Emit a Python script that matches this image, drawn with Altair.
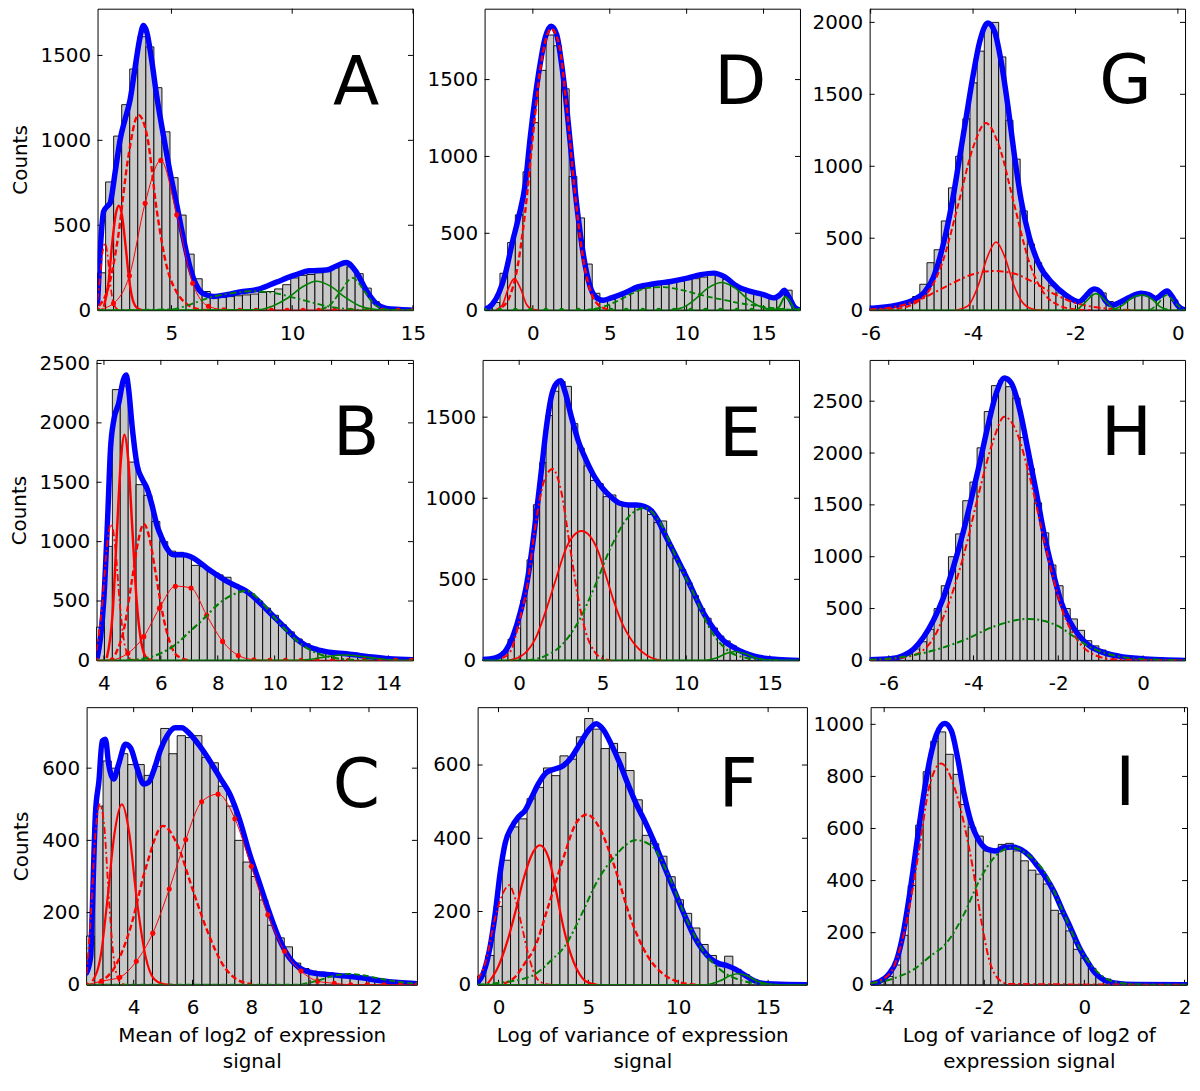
import altair as alt
import pandas as pd

FONT = "DejaVu Sans"
RED = "#ff0000"
GREEN = "#008000"
BLUE = "#0000ff"
BARFILL = "#c8c8c8"

# ================= Panel A =================
A_xdomain = [1.94, 15.0]
A_ydomain = [0, 1775]
A_xticks = [5, 10, 15]
A_yticks = [0, 500, 1000, 1500]
A_bin_start = 1.94
A_bin_width = 1 / 3
A_counts = [220, 755, 1025, 1210, 1420, 1610, 1550, 1310, 1050, 780,
            560, 330, 185, 110, 80, 75, 80, 85, 90, 95,
            105, 110, 125, 150, 190, 205, 210, 220, 240, 250,
            270, 255, 215, 130, 50, 20, 8, 4, 2]
A_fit_x = [1.94, 2.05, 2.19, 2.33, 2.46, 2.67, 2.88, 3.08, 3.29, 3.50, 3.70, 3.84, 3.98,
           4.18, 4.39, 4.67, 4.94, 5.22, 5.49, 5.77, 6.04, 6.32, 6.73, 7.28, 7.83, 8.66,
           9.35, 10.04, 10.73, 11.42, 11.83, 12.24, 12.66, 13.07, 13.48, 13.90, 14.45, 15.0]
A_fit_y = [40, 350, 580, 610, 630, 814, 1008, 1124, 1240, 1434, 1608, 1676, 1637,
           1473, 1260, 1027, 814, 620, 426, 252, 145, 97, 81, 91, 107, 126,
           165, 203, 232, 236, 260, 281, 223, 116, 39, 10, 4, 0]
A_rdd_x = [1.94, 2.05, 2.15, 2.25, 2.35, 2.45, 2.6, 2.8]
A_rdd_y = [60, 200, 340, 395, 330, 180, 40, 0]
A_rsol_x = [2.2, 2.4, 2.55, 2.7, 2.82, 2.95, 3.1, 3.25, 3.4, 3.6, 3.8]
A_rsol_y = [20, 170, 400, 570, 615, 560, 380, 180, 60, 10, 0]
A_rdash_x = [2.0, 2.4, 2.8, 3.2, 3.63, 4.0, 4.4, 4.8, 5.2, 5.6, 6.0, 6.5]
A_rdash_y = [25, 140, 440, 890, 1150, 1020, 580, 260, 110, 40, 10, 0]
A_rdot_x = [1.94, 2.6, 3.26, 3.91, 4.56, 5.22, 5.88, 6.53, 7.17, 7.83, 8.5, 9.14, 9.79,
            10.45, 11.1, 11.76, 12.42, 13.07, 13.73, 14.38, 15.0]
A_rdot_y = [2, 40, 203, 630, 882, 562, 159, 23, 3, 0, 0, 0, 0,
            0, 0, 0, 0, 0, 0, 0, 0]
A_gdd_x = [1.94, 5.0, 5.8, 6.6, 7.5, 8.3, 9.1, 9.9, 10.7, 11.5, 12.3, 13.0, 15.0]
A_gdd_y = [0, 5, 35, 75, 100, 112, 105, 80, 50, 22, 7, 1, 0]
A_gsol_x = [1.94, 8.6, 9.2, 9.8, 10.4, 11.0, 11.6, 12.2, 12.8, 13.4, 14.0, 15.0]
A_gsol_y = [0, 3, 25, 70, 135, 170, 140, 75, 25, 5, 0, 0]
A_gdash_x = [11.2, 11.6, 12.0, 12.5, 13.0, 13.4, 13.8, 14.3]
A_gdash_y = [5, 35, 110, 190, 110, 35, 8, 0]

# ================= Panel D =================
D_xdomain = [-3.14, 17.37]
D_ydomain = [0, 1961]
D_xticks = [0, 5, 10, 15]
D_yticks = [0, 500, 1000, 1500]
D_bin_start = -3.14
D_bin_width = 0.5
D_counts = [10, 50, 240, 440, 620, 900, 1220, 1560, 1790, 1720,
            1440, 870, 600, 300, 110, 65, 70, 90, 105, 125,
            140, 155, 165, 170, 180, 190, 200, 205, 215, 240,
            225, 200, 170, 130, 115, 105, 95, 80, 100, 130, 15]
D_fit_x = [-3.14, -2.65, -2.21, -1.78, -1.35, -0.92, -0.49, -0.17, 0.15, 0.47, 0.80, 1.19, 1.55,
           1.87, 2.20, 2.52, 2.84, 3.17, 3.60, 4.03, 4.56, 5.10, 5.96, 6.82, 7.90, 8.97, 10.05,
           10.91, 11.77, 12.42, 13.28, 14.14, 15.0, 15.65, 16.08, 16.34, 16.62, 17.05, 17.37]
D_fit_y = [4, 37, 112, 241, 435, 608, 823, 1125, 1384, 1600, 1772, 1847, 1793,
           1600, 1319, 996, 694, 435, 198, 91, 65, 80, 112, 151, 172, 187, 209,
           231, 241, 220, 155, 123, 101, 80, 101, 129, 91, 15, 0]
D_rdash_x = [-2.0, -1.5, -1.0, -0.5, 0.0, 0.5, 1.2, 1.7, 2.2, 2.7, 3.2, 3.7, 4.2, 4.7, 5.2]
D_rdash_y = [20, 90, 280, 640, 1130, 1580, 1830, 1730, 1320, 800, 380, 140, 40, 10, 0]
D_rsol_x = [-2.4, -2.0, -1.6, -1.2, -0.8, -0.4, 0.0, 0.4]
D_rsol_y = [2, 30, 140, 205, 140, 35, 4, 0]
D_gdot_x = [-3.14, -2.15, -1.14, -0.15, 0.84, 1.87, 2.95, 4.07, 5.10, 6.07, 7.15, 8.18, 9.19,
            10.27, 11.23, 12.20, 13.27, 14.24, 15.32, 16.29, 17.37]
D_gdot_y = [0, 0, 0, 0, 0, 0, 0, 0, 0, 0, 0, 0, 0, 0, 0, 0, 0, 0, 0, 0, 0]
D_gdd_x = [3.5, 4.5, 5.5, 6.5, 7.5, 8.5, 9.5, 10.5, 11.5, 12.5, 13.5, 14.5, 15.5, 16.5, 17.37]
D_gdd_y = [2, 20, 60, 110, 145, 150, 135, 110, 85, 65, 45, 30, 15, 5, 1]
D_gsol_x = [9.0, 9.8, 10.6, 11.4, 12.3, 13.2, 14.0, 14.8, 15.6, 16.2]
D_gsol_y = [2, 20, 75, 145, 180, 140, 70, 22, 4, 0]
D_gsm_x = [15.6, 16.0, 16.4, 16.7, 17.0, 17.37]
D_gsm_y = [0, 20, 85, 60, 10, 0]

# ================= Panel G =================
G_xdomain = [-6.02, 0.14]
G_ydomain = [0, 2095]
G_xticks = [-6, -4, -2, 0]
G_yticks = [0, 500, 1000, 1500, 2000]
G_bin_start = -6.02
G_bin_width = 0.14
G_counts = [8, 10, 15, 22, 35, 55, 95, 180, 330, 420,
            620, 850, 1070, 1330, 1580, 1800, 1990, 2000, 1760, 1320,
            1050, 690, 460, 330, 240, 170, 120, 100, 75, 65,
            100, 135, 120, 60, 45, 60, 90, 115, 120, 95,
            100, 125, 70]
G_fit_x = [-6.02, -5.49, -5.17, -4.94, -4.78, -4.65, -4.52, -4.39, -4.26, -4.13, -4.0, -3.87, -3.71,
           -3.58, -3.45, -3.32, -3.19, -3.06, -2.90, -2.71, -2.45, -2.19, -1.93, -1.81, -1.68, -1.62,
           -1.52, -1.40, -1.27, -1.11, -0.92, -0.72, -0.56, -0.43, -0.27, -0.21, -0.11, -0.01, 0.14]
G_fit_y = [12, 35, 70, 129, 223, 364, 552, 786, 1068, 1350, 1631, 1866, 1995,
           1937, 1725, 1420, 1068, 763, 505, 317, 188, 106, 59, 94, 141, 148,
           129, 59, 35, 59, 94, 117, 106, 82, 124, 134, 94, 35, 0]
G_rdash_x = [-6.02, -5.5, -5.0, -4.6, -4.3, -4.0, -3.75, -3.5, -3.2, -2.9, -2.6, -2.3, -2.0, -1.7]
G_rdash_y = [2, 10, 80, 330, 720, 1130, 1300, 1150, 740, 330, 110, 30, 5, 0]
G_rsol_x = [-4.35, -4.1, -3.9, -3.72, -3.55, -3.38, -3.2, -3.0, -2.8, -2.6]
G_rsol_y = [0, 30, 170, 370, 474, 370, 170, 40, 5, 0]
G_rdd_x = [-6.02, -5.5, -5.0, -4.5, -4.0, -3.6, -3.2, -2.8, -2.4, -2.0, -1.6, -1.2, -0.8]
G_rdd_y = [5, 25, 80, 170, 250, 272, 255, 190, 110, 50, 20, 5, 0]
G_g1_x = [-6.02, -2.0, -1.85, -1.6, -1.4, -1.25, -1.1, 0.14]
G_g1_y = [0, 0, 40, 115, 60, 10, 0, 0]
G_g2_x = [-1.3, -1.1, -0.9, -0.7, -0.5, -0.35, -0.2]
G_g2_y = [0, 30, 85, 105, 75, 25, 5]
G_g3_x = [-0.55, -0.4, -0.22, -0.05, 0.1, 0.14]
G_g3_y = [0, 40, 105, 50, 5, 0]

# ================= Panel B =================
B_xdomain = [3.74, 14.86]
B_ydomain = [0, 2530]
B_xticks = [4, 6, 8, 10, 12, 14]
B_yticks = [0, 500, 1000, 1500, 2000, 2500]
B_bin_start = 3.74
B_bin_width = 0.278
B_counts = [280, 960, 2280, 2310, 1670, 1480, 1390, 1170, 1000, 920,
            910, 880, 800, 790, 750, 720, 700, 640, 600, 560,
            500, 440, 380, 300, 240, 180, 140, 110, 90, 75,
            65, 58, 50, 42, 35, 25, 18, 12, 8, 5]
B_fit_x = [3.77, 3.88, 4.0, 4.12, 4.23, 4.35, 4.52, 4.68, 4.78, 4.87, 4.99, 5.17, 5.34, 5.52,
           5.69, 5.86, 6.04, 6.21, 6.45, 6.74, 7.03, 7.32, 7.61, 7.96, 8.31, 8.66, 9.01, 9.36,
           9.71, 10.06, 10.41, 10.76, 11.11, 11.46, 11.93, 12.51, 12.97, 13.44, 14.02, 14.86]
B_fit_y = [28, 194, 528, 1139, 1778, 2028, 2167, 2361, 2403, 2278, 1972, 1639, 1528, 1444,
           1306, 1139, 1028, 944, 889, 889, 875, 833, 778, 722, 667, 625, 583, 514,
           431, 347, 264, 181, 125, 92, 69, 56, 42, 28, 14, 5]
B_rdd_x = [3.74, 3.95, 4.1, 4.25, 4.4, 4.55, 4.7, 4.85, 5.0, 5.2]
B_rdd_y = [80, 500, 950, 1150, 950, 500, 170, 40, 5, 0]
B_rsol_x = [4.1, 4.3, 4.45, 4.6, 4.72, 4.85, 5.0, 5.15, 5.3, 5.5, 5.7]
B_rsol_y = [20, 380, 1050, 1700, 1900, 1700, 1100, 500, 170, 20, 0]
B_rdash_x = [4.4, 4.7, 5.0, 5.2, 5.4, 5.6, 5.8, 6.1, 6.4, 6.7, 7.0]
B_rdash_y = [50, 260, 700, 1000, 1150, 1030, 760, 350, 100, 20, 0]
B_rdot_x = [3.74, 4.29, 4.84, 5.40, 5.95, 6.51, 7.06, 7.61, 8.17, 8.72, 9.27, 9.83, 10.38,
            10.93, 11.49, 12.04, 12.59, 13.15, 13.70, 14.25, 14.80]
B_rdot_y = [0, 5, 60, 200, 440, 625, 610, 380, 160, 42, 6, 0, 0,
            0, 0, 0, 0, 0, 0, 0, 0]
B_gdd_x = [4.8, 5.5, 6.0, 6.5, 7.0, 7.5, 8.0, 8.5, 9.0, 9.5, 10.0, 10.5, 11.0, 11.5, 12.0,
           12.5, 13.0, 13.5]
B_gdd_y = [0, 20, 60, 130, 240, 350, 470, 550, 585, 500, 360, 230, 125, 60, 25, 8, 2, 0]
B_gsol_x = [3.74, 10.5, 11.2, 11.8, 12.4, 13.0, 13.6, 14.2, 14.86]
B_gsol_y = [0, 0, 8, 30, 45, 35, 16, 4, 0]

# ================= Panel E =================
E_xdomain = [-2.19, 16.75]
E_ydomain = [0, 1853]
E_xticks = [0, 5, 10, 15]
E_yticks = [0, 500, 1000, 1500]
E_bin_start = -2.19
E_bin_width = 0.38
E_counts = [3, 8, 20, 55, 130, 200, 370, 620, 960, 1220,
            1510, 1660, 1720, 1690, 1460, 1310, 1200, 1110, 1090, 1010,
            1020, 970, 960, 955, 955, 940, 900, 850, 860, 710,
            630, 560, 480, 400, 320, 260, 200, 150, 120, 90,
            65, 45, 30, 20, 14, 9, 6, 3, 2, 1]
E_fit_x = [-2.19, -1.43, -0.83, -0.34, 0.06, 0.46, 0.76, 1.05, 1.35, 1.65, 1.95, 2.25, 2.48,
           2.74, 3.14, 3.54, 4.03, 4.53, 5.03, 5.52, 6.02, 6.52, 7.01, 7.51, 7.91, 8.31,
           8.70, 9.10, 9.60, 10.09, 10.59, 11.09, 11.68, 12.28, 12.87, 13.47, 14.07, 14.66,
           15.46, 16.75]
E_fit_y = [6, 16, 57, 159, 292, 476, 680, 924, 1190, 1455, 1639, 1710, 1724,
           1659, 1496, 1353, 1231, 1129, 1057, 1006, 969, 959, 959, 949, 924, 863,
           782, 700, 598, 496, 384, 282, 190, 118, 78, 47, 27, 14,
           6, 0]
E_rdd_x = [-1.0, -0.5, 0.0, 0.5, 1.0, 1.5, 2.0, 2.5, 3.0, 3.5, 4.0, 4.5, 5.0, 5.5]
E_rdd_y = [15, 60, 240, 470, 850, 1110, 1180, 1050, 730, 400, 170, 55, 12, 0]
E_rsol_x = [-0.6, 0.3, 1.0, 1.55, 2.2, 2.8, 3.74, 4.7, 5.2, 5.7, 6.2, 6.7, 7.7, 8.5]
E_rsol_y = [0, 40, 140, 292, 500, 690, 798, 680, 520, 355, 220, 129, 27, 0]
E_gdd_x = [0.5, 1.5, 2.5, 3.5, 4.5, 5.5, 6.5, 7.5, 8.5, 9.5, 10.5, 11.5, 12.5, 13.5, 14.5, 15.5]
E_gdd_y = [0, 25, 90, 230, 450, 700, 880, 940, 840, 610, 400, 180, 60, 18, 5, 0]
E_gsol_x = [-2.19, 11.0, 11.8, 12.4, 12.9, 13.5, 14.2, 15.0, 16.0, 16.75]
E_gsol_y = [0, 0, 15, 42, 55, 42, 15, 2, 0, 0]

# ================= Panel H =================
H_xdomain = [-6.45, 0.99]
H_ydomain = [0, 2898]
H_xticks = [-6, -4, -2, 0]
H_yticks = [0, 500, 1000, 1500, 2000, 2500]
H_bin_start = -6.45
H_bin_width = 0.169
H_counts = [3, 5, 10, 18, 35, 60, 110, 180, 300, 500,
            720, 1000, 1220, 1540, 1720, 2050, 2400, 2650, 2700, 2640,
            2530, 2150, 1850, 1520, 1230, 920, 720, 500, 400, 290,
            190, 140, 100, 70, 50, 38, 28, 20, 15, 10,
            7, 5, 3, 2]
H_fit_x = [-6.45, -5.96, -5.65, -5.41, -5.18, -4.95, -4.71, -4.48, -4.24, -4.05, -3.85, -3.66,
           -3.46, -3.27, -3.11, -2.91, -2.72, -2.52, -2.33, -2.13, -1.94, -1.74, -1.51, -1.27,
           -0.96, -0.57, -0.02, 0.45, 0.99]
H_fit_y = [6, 16, 48, 111, 223, 382, 605, 892, 1242, 1561, 1911, 2261,
           2580, 2723, 2675, 2420, 2038, 1624, 1210, 860, 573, 382, 239, 143,
           80, 41, 16, 6, 0]
H_rdd_x = [-6.45, -5.5, -5.0, -4.63, -4.24, -3.85, -3.55, -3.27, -3.0, -2.68, -2.29, -1.9,
           -1.51, -1.12, -0.7, 0.99]
H_rdd_y = [3, 40, 180, 500, 1000, 1650, 2100, 2350, 2220, 1780, 1080, 480,
           175, 48, 10, 0]
H_gdd_x = [-6.45, -5.8, -5.0, -4.2, -3.5, -2.7, -2.0, -1.65, -1.3, -0.9, -0.5, 0.0, 0.99]
H_gdd_y = [5, 25, 90, 200, 330, 400, 330, 235, 140, 72, 33, 12, 2]

# ================= Panel C =================
C_xdomain = [2.40, 13.63]
C_ydomain = [0, 769]
C_xticks = [4, 6, 8, 10, 12]
C_yticks = [0, 200, 400, 600]
C_bin_start = 2.40
C_bin_width = 0.28
C_counts = [135, 495, 620, 600, 640, 610, 610, 580, 605, 710,
            640, 690, 685, 690, 630, 615, 550, 495, 400, 340,
            300, 235, 165, 130, 105, 60, 45, 38, 35, 33,
            30, 28, 25, 22, 18, 14, 10, 7, 4, 2]
C_fit_x = [2.40, 2.54, 2.59, 2.70, 2.82, 2.93, 3.04, 3.15, 3.32, 3.49, 3.72, 3.89, 4.11,
           4.34, 4.51, 4.68, 4.90, 5.13, 5.41, 5.63, 5.92, 6.25, 6.59, 6.93, 7.27, 7.61,
           7.94, 8.28, 8.62, 8.96, 9.30, 9.63, 10.08, 10.65, 11.21, 11.77, 12.34, 13.01, 13.63]
C_fit_y = [33, 79, 198, 473, 565, 675, 680, 611, 570, 611, 666, 657, 602,
           556, 561, 593, 648, 689, 712, 712, 694, 661, 620, 574, 528, 455,
           363, 281, 198, 125, 74, 47, 33, 28, 24, 19, 12, 6, 3]
C_rdd_x = [2.4, 2.55, 2.7, 2.85, 3.0, 3.15, 3.3, 3.45, 3.6, 3.8]
C_rdd_y = [30, 200, 420, 500, 440, 250, 90, 20, 3, 0]
C_rsol_x = [2.6, 2.9, 3.1, 3.35, 3.6, 3.85, 4.1, 4.4, 4.7, 5.0, 5.3]
C_rsol_y = [10, 90, 230, 420, 500, 420, 240, 80, 15, 2, 0]
C_rdash_x = [2.8, 3.4, 3.9, 4.4, 5.0, 5.5, 6.0, 6.5, 7.0, 7.5, 8.0]
C_rdash_y = [5, 55, 160, 320, 440, 385, 265, 150, 60, 15, 2]
C_rdot_x = [2.40, 2.91, 3.53, 4.09, 4.65, 5.21, 5.77, 6.31, 6.87, 7.44, 8.0, 8.56, 9.13,
            9.69, 10.25, 10.82, 11.38, 11.94, 12.51, 13.07, 13.63]
C_rdot_y = [0, 10, 21, 65, 143, 265, 402, 507, 528, 460, 328, 194, 93,
            38, 10, 4, 0, 0, 0, 0, 0]
C_gdash_x = [2.4, 9.5, 10.2, 10.8, 11.3, 11.9, 12.5, 13.0, 13.63]
C_gdash_y = [0, 0, 10, 25, 30, 25, 15, 8, 3]

# ================= Panel F =================
F_xdomain = [-1.16, 17.16]
F_ydomain = [0, 758]
F_xticks = [0, 5, 10, 15]
F_yticks = [0, 200, 400, 600]
F_bin_start = -1.16
F_bin_width = 0.458
F_counts = [24, 80, 214, 340, 431, 453, 508, 539, 592, 571,
            625, 616, 677, 727, 698, 645, 659, 634, 585, 505,
            408, 385, 351, 295, 232, 195, 155, 110, 80, 51,
            78, 42, 28, 14, 8, 5, 3, 2, 1, 1]
F_fit_x = [-1.16, -0.83, -0.46, -0.18, 0.09, 0.37, 0.74, 1.11, 1.48, 1.85, 2.21, 2.68, 3.14,
           3.60, 4.06, 4.52, 4.98, 5.44, 5.81, 6.27, 6.73, 7.20, 7.66, 8.12, 8.58, 9.04,
           9.50, 9.96, 10.42, 10.89, 11.35, 11.81, 12.27, 12.73, 13.19, 13.65, 14.11, 14.58,
           15.31, 17.16]
F_fit_y = [5, 33, 105, 195, 304, 386, 431, 458, 476, 512, 548, 580, 589,
           598, 621, 657, 693, 713, 698, 657, 607, 548, 494, 449, 399, 345,
           290, 236, 182, 132, 96, 71, 58, 52, 42, 28, 14, 5,
           2, 0]
F_rdd_x = [-1.16, -0.7, -0.2, 0.3, 0.6, 0.9, 1.3, 1.7, 2.1, 2.5, 2.9]
F_rdd_y = [15, 65, 180, 255, 272, 240, 160, 75, 20, 4, 0]
F_rsol_x = [-0.6, 0.0, 0.5, 0.92, 1.4, 1.9, 2.3, 2.8, 3.23, 3.6, 4.06, 4.5, 4.9, 5.5]
F_rsol_y = [3, 51, 120, 195, 290, 360, 381, 345, 250, 160, 78, 30, 8, 0]
F_rdash_x = [0.3, 1.0, 1.48, 2.0, 2.77, 3.69, 4.3, 4.93, 5.6, 6.46, 7.38, 8.3, 9.2, 10.0, 11.0]
F_rdash_y = [3, 25, 60, 100, 214, 358, 440, 465, 430, 322, 177, 78, 28, 8, 0]
F_gdd_x = [-1.16, 0.0, 1.85, 3.0, 3.69, 4.6, 5.53, 6.46, 7.66, 8.5, 9.5, 10.5, 11.5, 12.5,
           13.5, 14.5, 15.5]
F_gdd_y = [0, 5, 24, 70, 105, 190, 286, 350, 395, 380, 295, 175, 85, 35,
           12, 3, 0]
F_gsol_x = [-1.16, 11.5, 12.3, 12.9, 13.3, 13.8, 14.4, 15.0, 15.6, 17.16]
F_gsol_y = [0, 0, 10, 25, 30, 25, 10, 2, 0, 0]

# ================= Panel I =================
I_xdomain = [-4.27, 2.05]
I_ydomain = [0, 1066]
I_xticks = [-4, -2, 0, 2]
I_yticks = [0, 200, 400, 600, 800, 1000]
I_bin_start = -4.27
I_bin_width = 0.15
I_counts = [4, 13, 32, 76, 190, 381, 613, 818, 935, 971,
            885, 808, 692, 605, 571, 514, 520, 539, 543, 514,
            476, 440, 425, 387, 286, 273, 207, 136, 102, 63,
            32, 22, 13, 9, 6, 4, 3, 2, 1, 1, 0, 0]
I_fit_x = [-4.27, -4.09, -3.92, -3.75, -3.62, -3.49, -3.36, -3.22, -3.09, -2.96, -2.79, -2.66,
           -2.53, -2.40, -2.27, -2.10, -1.93, -1.77, -1.60, -1.44, -1.27, -1.10, -0.94, -0.77,
           -0.60, -0.44, -0.27, -0.11, 0.06, 0.22, 0.39, 0.62, 1.02, 2.05]
I_fit_y = [4, 13, 38, 95, 197, 349, 527, 717, 863, 958, 1003, 977,
           869, 730, 628, 552, 520, 514, 527, 529, 520, 495, 457, 412,
           355, 286, 216, 146, 89, 44, 19, 6, 1, 0]
I_rdd_x = [-4.27, -3.9, -3.6, -3.3, -3.1, -2.86, -2.6, -2.4, -2.23, -2.06, -1.9, -1.7, -1.5, 2.05]
I_rdd_y = [5, 40, 200, 520, 760, 850, 760, 615, 450, 247, 95, 19, 3, 0]
I_gdd_x = [-4.27, -3.8, -3.4, -3.09, -2.76, -2.4, -2.1, -1.77, -1.45, -1.1, -0.77, -0.44,
           -0.11, 0.22, 0.56, 1.0, 1.5, 2.05]
I_gdd_y = [5, 25, 60, 108, 159, 273, 400, 495, 527, 495, 425, 286,
           146, 57, 13, 2, 0, 0]

X_TITLE_C = ["Mean of log2 of expression", "signal"]
X_TITLE_F = ["Log of variance of expression", "signal"]
X_TITLE_I = ["Log of variance of log2 of", "expression signal"]
Y_TITLE = "Counts"

# ---------------- styling ----------------
DASH = [6, 3]
DASHDOT = [7, 3, 2, 3]


def comp(xs, ys, color, dash=None, width=1.8, dots=False):
    return dict(xs=xs, ys=ys, color=color, dash=dash, width=width, dots=dots)


def make_panel(letter, xdom, ydom, xticks, yticks, start, bw, counts, fit_x, fit_y,
               comps, size, lpos, xtitle=None, ytitle=None):
    W, H = size
    X = alt.Scale(domain=xdom, nice=False, zero=False)
    Y = alt.Scale(domain=ydom, nice=False, zero=False)
    xaxis = alt.Axis(values=xticks, title=xtitle, labelExpr="datum.value", labelFlush=False,
                     labelOverlap=False, ticks=False, domain=False, grid=False,
                     labelPadding=13, titlePadding=8, titleLineHeight=26)
    yaxis = alt.Axis(values=yticks, title=ytitle, labelExpr="datum.value", labelFlush=False,
                     labelOverlap=False, ticks=False, domain=False, grid=False,
                     labelPadding=7, titlePadding=10)

    def ex(field):
        return alt.X(field, scale=X, axis=xaxis)

    def ey(field):
        return alt.Y(field, scale=Y, axis=yaxis)

    n = len(counts)
    edges = [start + i * bw for i in range(n + 1)]
    bars_df = pd.DataFrame({"x0": edges[:-1], "x1": edges[1:], "c": counts})
    layers = [
        alt.Chart(bars_df).mark_rect(fill=BARFILL, stroke="black", strokeWidth=0.9).encode(
            x=ex("x0:Q"), x2="x1:Q", y=ey("c:Q"), y2=alt.datum(0))
    ]
    # inward ticks on all four sides
    tx = pd.DataFrame({"t": xticks})
    ty = pd.DataFrame({"t": yticks})
    tick = dict(color="black", strokeWidth=1)
    layers += [
        alt.Chart(tx).mark_rule(**tick).encode(x=ex("t:Q"), y=alt.value(H), y2=alt.value(H - 5)),
        alt.Chart(tx).mark_rule(**tick).encode(x=ex("t:Q"), y=alt.value(0), y2=alt.value(5)),
        alt.Chart(ty).mark_rule(**tick).encode(y=ey("t:Q"), x=alt.value(0), x2=alt.value(5)),
        alt.Chart(ty).mark_rule(**tick).encode(y=ey("t:Q"), x=alt.value(W), x2=alt.value(W - 5)),
    ]
    # fitted total
    fdf = pd.DataFrame({"x": fit_x, "y": fit_y})
    layers.append(
        alt.Chart(fdf).mark_line(color=BLUE, strokeWidth=5.5, interpolate="monotone",
                                 clip=True, strokeCap="round", strokeJoin="round").encode(
            x=ex("x:Q"), y=ey("y:Q"))
    )
    for c in comps:
        df = pd.DataFrame({"x": c["xs"], "y": c["ys"]})
        kw = dict(color=c["color"], strokeWidth=c["width"], interpolate="monotone", clip=True)
        if c["dash"]:
            kw["strokeDash"] = c["dash"]
        layers.append(alt.Chart(df).mark_line(**kw).encode(x=ex("x:Q"), y=ey("y:Q")))
        if c["dots"]:
            layers.append(alt.Chart(df).mark_point(filled=True, color=c["color"], size=26,
                                                   opacity=1, clip=True).encode(
                x=ex("x:Q"), y=ey("y:Q")))
    layers.append(
        alt.Chart(pd.DataFrame({"s": [letter]})).mark_text(
            font=FONT, fontSize=68, align="center", baseline="alphabetic", color="black").encode(
            x=alt.value(lpos[0]), y=alt.value(lpos[1]), text="s:N")
    )
    return alt.layer(*layers).properties(width=W, height=H)


def gap(w):
    # invisible spacer cell used to reproduce the original panel offsets
    return alt.Chart(pd.DataFrame({"g": [0]})).mark_point(opacity=0).encode(
        x=alt.value(0), y=alt.value(0)
    ).properties(width=w, height=10, view=alt.ViewBackground(stroke="transparent"))


pA = make_panel("A", A_xdomain, A_ydomain, A_xticks, A_yticks, A_bin_start, A_bin_width, A_counts,
                A_fit_x, A_fit_y,
                [comp(A_rdd_x, A_rdd_y, RED, DASHDOT, 1.6),
                 comp(A_rsol_x, A_rsol_y, RED, None, 2.4),
                 comp(A_rdash_x, A_rdash_y, RED, DASH, 2.4),
                 comp(A_rdot_x, A_rdot_y, RED, None, 1.0, True),
                 comp(A_gdd_x, A_gdd_y, GREEN, DASHDOT, 1.8),
                 comp(A_gsol_x, A_gsol_y, GREEN, None, 1.6),
                 comp(A_gdash_x, A_gdash_y, GREEN, DASH, 1.8)],
                (317, 303), (260, 97), None, Y_TITLE)
pD = make_panel("D", D_xdomain, D_ydomain, D_xticks, D_yticks, D_bin_start, D_bin_width, D_counts,
                D_fit_x, D_fit_y,
                [comp(D_rdash_x, D_rdash_y, RED, DASH, 2.4),
                 comp(D_rsol_x, D_rsol_y, RED, None, 1.6),
                 comp(D_gdot_x, D_gdot_y, GREEN, None, 1.0, True),
                 comp(D_gdd_x, D_gdd_y, GREEN, DASH, 1.8),
                 comp(D_gsol_x, D_gsol_y, GREEN, None, 1.6),
                 comp(D_gsm_x, D_gsm_y, GREEN, None, 2.0)],
                (317, 303), (257, 96))
pG = make_panel("G", G_xdomain, G_ydomain, G_xticks, G_yticks, G_bin_start, G_bin_width, G_counts,
                G_fit_x, G_fit_y,
                [comp(G_rdash_x, G_rdash_y, RED, DASH, 2.0),
                 comp(G_rsol_x, G_rsol_y, RED, None, 1.6),
                 comp(G_rdd_x, G_rdd_y, RED, DASHDOT, 2.0),
                 comp(G_g1_x, G_g1_y, GREEN, None, 1.6),
                 comp(G_g2_x, G_g2_y, GREEN, None, 1.6),
                 comp(G_g3_x, G_g3_y, GREEN, DASH, 1.6)],
                (317, 303), (257, 95))
pB = make_panel("B", B_xdomain, B_ydomain, B_xticks, B_yticks, B_bin_start, B_bin_width, B_counts,
                B_fit_x, B_fit_y,
                [comp(B_rdd_x, B_rdd_y, RED, DASHDOT, 1.8),
                 comp(B_rsol_x, B_rsol_y, RED, None, 2.5),
                 comp(B_rdash_x, B_rdash_y, RED, DASH, 2.4),
                 comp(B_rdot_x, B_rdot_y, RED, None, 1.0, True),
                 comp(B_gdd_x, B_gdd_y, GREEN, DASHDOT, 2.2),
                 comp(B_gsol_x, B_gsol_y, GREEN, None, 1.6)],
                (318, 302), (261, 96), None, Y_TITLE)
pE = make_panel("E", E_xdomain, E_ydomain, E_xticks, E_yticks, E_bin_start, E_bin_width, E_counts,
                E_fit_x, E_fit_y,
                [comp(E_rdd_x, E_rdd_y, RED, DASHDOT, 2.0),
                 comp(E_rsol_x, E_rsol_y, RED, None, 1.8),
                 comp(E_gdd_x, E_gdd_y, GREEN, DASHDOT, 2.0),
                 comp(E_gsol_x, E_gsol_y, GREEN, None, 1.6)],
                (318, 302), (259, 97))
pH = make_panel("H", H_xdomain, H_ydomain, H_xticks, H_yticks, H_bin_start, H_bin_width, H_counts,
                H_fit_x, H_fit_y,
                [comp(H_rdd_x, H_rdd_y, RED, DASHDOT, 2.0),
                 comp(H_gdd_x, H_gdd_y, GREEN, DASHDOT, 2.0)],
                (317, 302), (258, 96))
pC = make_panel("C", C_xdomain, C_ydomain, C_xticks, C_yticks, C_bin_start, C_bin_width, C_counts,
                C_fit_x, C_fit_y,
                [comp(C_rdd_x, C_rdd_y, RED, DASHDOT, 1.8),
                 comp(C_rsol_x, C_rsol_y, RED, None, 2.2),
                 comp(C_rdash_x, C_rdash_y, RED, DASH, 2.4),
                 comp(C_rdot_x, C_rdot_y, RED, None, 1.0, True),
                 comp(C_gdash_x, C_gdash_y, GREEN, DASH, 1.8)],
                (332, 279), (271, 100), X_TITLE_C, Y_TITLE)
pF = make_panel("F", F_xdomain, F_ydomain, F_xticks, F_yticks, F_bin_start, F_bin_width, F_counts,
                F_fit_x, F_fit_y,
                [comp(F_rdd_x, F_rdd_y, RED, DASHDOT, 1.8),
                 comp(F_rsol_x, F_rsol_y, RED, None, 2.2),
                 comp(F_rdash_x, F_rdash_y, RED, DASH, 2.4),
                 comp(F_gdd_x, F_gdd_y, GREEN, DASHDOT, 2.0),
                 comp(F_gsol_x, F_gsol_y, GREEN, None, 1.6)],
                (331, 279), (262, 100), X_TITLE_F)
pI = make_panel("I", I_xdomain, I_ydomain, I_xticks, I_yticks, I_bin_start, I_bin_width, I_counts,
                I_fit_x, I_fit_y,
                [comp(I_rdd_x, I_rdd_y, RED, DASHDOT, 2.0),
                 comp(I_gdd_x, I_gdd_y, GREEN, DASHDOT, 2.0)],
                (318, 279), (256, 98), X_TITLE_I)

row1 = alt.hconcat(gap(11), pA, gap(72), pD, gap(70), pG, spacing=0, bounds="flush")
row2 = alt.hconcat(gap(10), pB, gap(70), pE, gap(71), pH, spacing=0, bounds="flush")
row3 = alt.hconcat(pC, gap(61), pF, gap(64), pI, spacing=0, bounds="flush")

chart = alt.concat(row1, row2, row3, columns=1, spacing=9).properties(
    padding={"left": 0, "top": -6, "right": 0, "bottom": 2}
).configure_view(stroke="black", strokeWidth=1).configure_axis(
    labelFont=FONT, labelFontSize=20, labelColor="black",
    titleFont=FONT, titleFontSize=20, titleColor="black", titleFontWeight="normal"
)

chart.save("out.html", embed_options={"renderer": "svg", "actions": False})
